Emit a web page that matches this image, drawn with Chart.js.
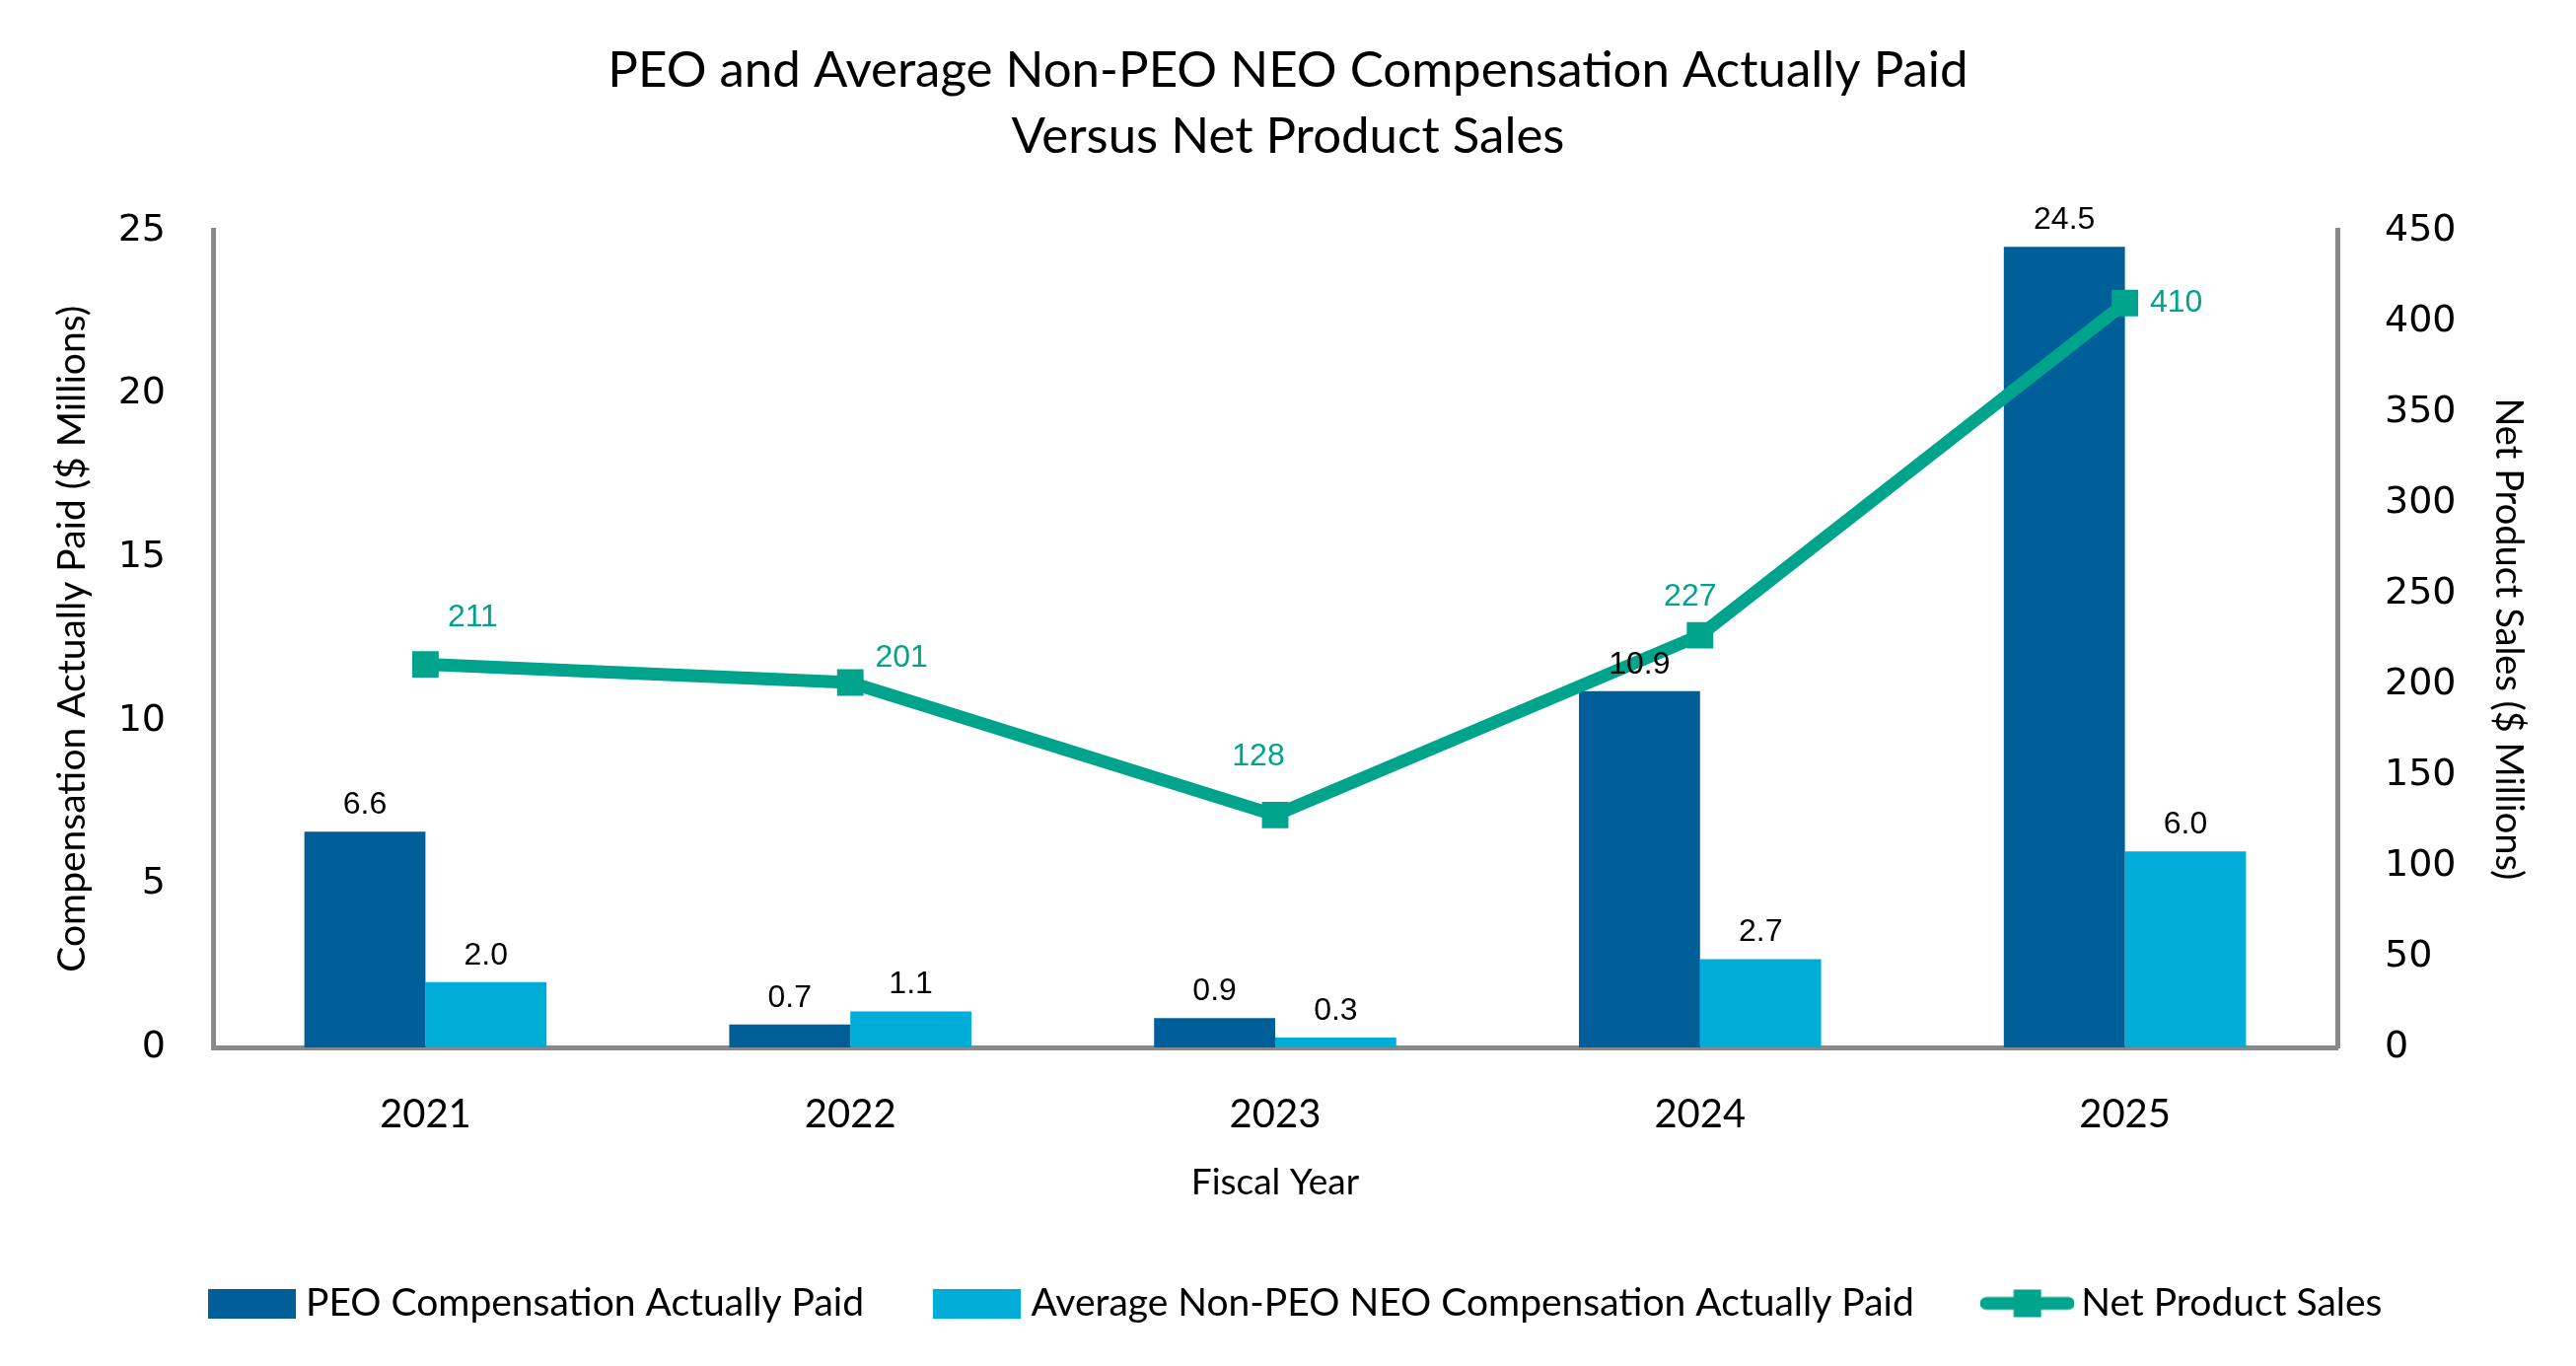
<!DOCTYPE html>
<html>
<head>
<meta charset="utf-8">
<script src="https://cdn.jsdelivr.net/npm/chart.js@4/dist/chart.umd.min.js"></script>
<style>
  html, body { margin: 0; padding: 0; background: #ffffff; overflow: hidden; }
  canvas { display: block; }
</style>
</head>
<body>
<canvas id="c" width="2612" height="1385"></canvas>
<script>
// ---- data ----
const categories = ['2021', '2022', '2023', '2024', '2025'];
const peoCap = [6.6, 0.7, 0.9, 10.9, 24.5];
const neoCap = [2.0, 1.1, 0.3, 2.7, 6.0];
const netSales = [211, 201, 128, 227, 410];
const leftAxisRange = [0, 25, 5];
const rightAxisRange = [0, 450, 50];
const seriesNames = ['PEO Compensation Actually Paid', 'Average Non-PEO NEO Compensation Actually Paid', 'Net Product Sales'];
const titleLines = ['PEO and Average Non-PEO NEO Compensation Actually Paid', 'Versus Net Product Sales'];

// ---- style ----
const C_PEO = '#005F99';
const C_NEO = '#00ADD8';
const C_TEAL = '#00A38C';
const C_AXIS = '#898989';
const SRC = 'Lato, "Noto Sans", sans-serif';

function boxImg(color, w, h) {
  const cv = document.createElement('canvas');
  cv.width = w; cv.height = h;
  const g = cv.getContext('2d');
  g.fillStyle = color; g.fillRect(0, 0, w, h);
  return cv;
}
function lineImg(color, w, h) {
  const cv = document.createElement('canvas');
  cv.width = w; cv.height = h;
  const g = cv.getContext('2d');
  g.fillStyle = color;
  g.beginPath();
  g.moveTo(6, h / 2); g.lineTo(w - 6, h / 2);
  g.lineWidth = 13; g.lineCap = 'round'; g.strokeStyle = color; g.stroke();
  const s = 28;
  g.fillRect(w / 2 - s / 2, h / 2 - s / 2, s, s);
  return cv;
}
const legendImgs = [boxImg(C_PEO, 89, 30), boxImg(C_NEO, 89, 30), lineImg(C_TEAL, 95, 30)];

const valueLabels = {
  id: 'valueLabels',
  afterDatasetsDraw(chart, args, opts) {
    const ctx = chart.ctx;
    ctx.save();
    ctx.font = '32px "Liberation Sans", Arial, sans-serif';
    ctx.textBaseline = 'middle';
    ctx.textAlign = 'center';
    chart.data.datasets.forEach((ds, di) => {
      const meta = chart.getDatasetMeta(di);
      meta.data.forEach((el, i) => {
        const v = ds.data[i];
        if (ds.type === 'line') {
          const o = opts.lineOffsets[i];
          ctx.fillStyle = C_TEAL;
          ctx.fillText(String(v), el.x + o[0], el.y + o[1]);
        } else {
          ctx.fillStyle = '#000000';
          ctx.fillText(v.toFixed(1), el.x, el.y - 27);
        }
      });
    });
    ctx.restore();
  }
};

// nudge the legend row slightly right, as in the reference
const legendShift = {
  id: 'legendShift',
  afterLayout(chart, args, opts) {
    if (chart.legend) {
      chart.legend.left += opts.dx;
      chart.legend.right += opts.dx;
    }
  }
};

new Chart(document.getElementById('c'), {
  data: {
    labels: categories,
    datasets: [
      { type: 'bar', label: seriesNames[0], data: peoCap, backgroundColor: C_PEO, yAxisID: 'y', order: 1,
        categoryPercentage: 0.57, barPercentage: 1.0 },
      { type: 'bar', label: seriesNames[1], data: neoCap, backgroundColor: C_NEO, yAxisID: 'y', order: 1,
        categoryPercentage: 0.57, barPercentage: 1.0 },
      { type: 'line', label: seriesNames[2], data: netSales, yAxisID: 'y1', order: 0,
        borderColor: C_TEAL, backgroundColor: C_TEAL, borderWidth: 13, tension: 0,
        pointStyle: 'rect', pointRadius: 19, pointHoverRadius: 19, pointBorderWidth: 0,
        pointBackgroundColor: C_TEAL, fill: false }
    ]
  },
  options: {
    responsive: false,
    devicePixelRatio: 1,
    animation: false,
    layout: { padding: { left: 0, right: 0, top: 0, bottom: 34 } },
    plugins: {
      tooltip: { enabled: false },
      title: {
        display: true,
        text: titleLines,
        color: '#000000',
        font: { family: SRC, size: 51, weight: 'normal', lineHeight: 1.32 },
        padding: { top: 38, bottom: 61 }
      },
      legend: {
        display: true,
        position: 'bottom',
        align: 'center',
        labels: {
          usePointStyle: true,
          pointStyleWidth: 70,
          padding: 80,
          color: '#000000',
          font: { family: SRC, size: 39 },
          generateLabels: (chart) => chart.data.datasets.map((ds, i) => ({
            text: ds.label,
            pointStyle: legendImgs[i],
            fillStyle: ds.backgroundColor,
            strokeStyle: ds.backgroundColor,
            lineWidth: 0,
            fontColor: '#000000',
            hidden: false,
            datasetIndex: i
          }))
        }
      },
      legendShift: { dx: 12 },
      valueLabels: {
        lineOffsets: [[48, -47], [52, -25], [-17, -59], [-10, -39], [52, 0]]
      }
    },
    scales: {
      x: {
        grid: { display: false, drawTicks: false },
        border: { display: true, color: C_AXIS, width: 5 },
        ticks: { color: '#000000', font: { family: SRC, size: 40 }, padding: 44 },
        title: { display: true, text: 'Fiscal Year', color: '#000000',
                 font: { family: SRC, size: 37, lineHeight: 1.2 }, padding: { top: 0, bottom: 1 } },
        afterFit: (s) => { s.height = 160; }
      },
      y: {
        position: 'left',
        min: leftAxisRange[0], max: leftAxisRange[1],
        ticks: { stepSize: leftAxisRange[2], color: '#000000', padding: 48,
                 font: { family: '"DejaVu Sans", Verdana, sans-serif', size: 38 } },
        grid: { display: false, drawTicks: false },
        border: { display: true, color: C_AXIS, width: 5 },
        title: { display: true, text: 'Compensation Actually Paid ($ Millions)', color: '#000000',
                 font: { family: SRC, size: 39, lineHeight: 1.2 }, padding: { top: 50, bottom: 0 } },
        afterFit: (s) => { s.width = 216; }
      },
      y1: {
        position: 'right',
        min: rightAxisRange[0], max: rightAxisRange[1],
        ticks: { stepSize: rightAxisRange[2], color: '#000000', padding: 48,
                 font: { family: '"DejaVu Sans", Verdana, sans-serif', size: 38 } },
        grid: { display: false, drawTicks: false },
        border: { display: true, color: C_AXIS, width: 5 },
        title: { display: true, text: 'Net Product Sales ($ Millions)', color: '#000000',
                 font: { family: SRC, size: 38, lineHeight: 1.2 }, padding: { top: 46, bottom: 0 } },
        afterFit: (s) => { s.width = 242; }
      }
    }
  },
  plugins: [valueLabels, legendShift]
});
</script>
</body>
</html>
